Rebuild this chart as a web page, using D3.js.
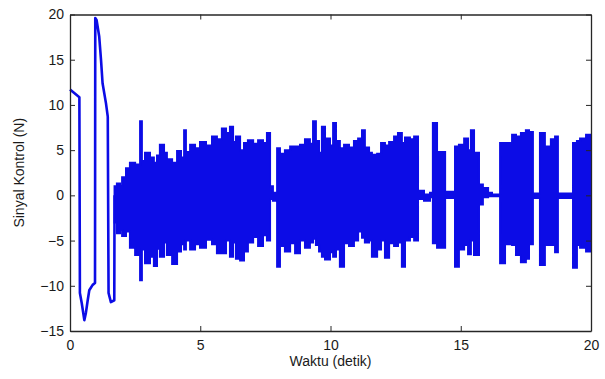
<!DOCTYPE html>
<html>
<head>
<meta charset="utf-8">
<script src="https://cdn.jsdelivr.net/npm/d3@7"></script>
<style>
  html, body { margin: 0; padding: 0; background: #fff; }
  svg text { font-family: "Liberation Sans", Arial, sans-serif; fill: #1a1a1a; }
</style>
</head>
<body>
<div id="chart"></div>
<script>
// transient part of the control signal (clean line)
const tTrans = [0, 0.36, 0.38, 0.45, 0.55, 0.61, 0.68, 0.74, 0.87, 0.96, 0.97, 1.02, 1.12, 1.19, 1.25, 1.38, 1.45, 1.48, 1.57, 1.70, 1.71];
const uTrans = [11.7, 10.85, -10.8, -11.9, -13.8, -13.0, -11.6, -10.5, -9.9, -9.7, 19.6, 19.4, 17.6, 15.0, 12.4, 10.2, 8.7, -10.8, -11.8, -11.6, 0];

// chattering part: step envelope (upper / lower) of the oscillation
const envT = [1.71, 1.80, 1.92, 2.00, 2.15, 2.30, 2.50, 2.69, 2.76, 2.88, 3.07, 3.22, 3.34, 3.45, 3.61, 3.72, 3.92, 4.11, 4.26, 4.38,
  4.45, 4.61, 4.80, 4.99, 5.22, 5.45, 5.64, 5.83, 5.99, 6.14, 6.26, 6.37, 6.53, 6.68, 6.83, 7.03, 7.22, 7.41, 7.56, 7.68,
  7.79, 7.95, 8.06, 8.25, 8.45, 8.64, 8.83, 9.02, 9.21, 9.33, 9.44, 9.56, 9.67, 9.79, 9.98, 10.10, 10.21, 10.36, 10.52, 10.71,
  10.90, 11.06, 11.21, 11.32, 11.48, 11.59, 11.79, 11.94, 12.09, 12.25, 12.44, 12.59, 12.74, 12.86, 13.05, 13.21, 13.36, 13.59, 13.82, 13.93,
  14.09, 14.40, 14.78, 14.93, 15.13, 15.28, 15.39, 15.51, 15.70, 15.85, 16.05, 16.20, 16.51, 16.70, 16.97, 17.12, 17.31, 17.50, 17.62, 17.77,
  18.04, 18.23, 18.46, 18.62, 18.73, 19.31, 19.46, 19.58, 19.81, 20];
const envHi = [1.0, 1.3, 1.0, 2.0, 3.0, 3.6, 3.4, 8.2, 3.8, 4.7, 4.2, 3.6, 4.4, 5.6, 4.7, 4.0, 3.6, 4.9, 4.2, 7.2,
  4.8, 5.6, 5.2, 5.9, 5.5, 6.5, 6.2, 7.4, 6.9, 7.6, 5.9, 6.5, 5.0, 5.8, 6.1, 5.7, 6.1, 5.8, 6.9, 1.0,
  0.3, 5.2, 4.6, 5.0, 5.4, 5.4, 5.6, 6.2, 5.7, 8.2, 6.0, 4.7, 7.6, 6.3, 5.5, 8.0, 6.0, 5.2, 5.6, 5.3,
  6.0, 6.3, 7.2, 5.3, 4.7, 4.5, 4.6, 5.8, 5.5, 5.9, 6.5, 6.9, 5.8, 6.4, 6.2, 6.5, 0.5, 0.1, 0.3, 8.0,
  4.8, 0.4, 5.4, 5.6, 6.3, 5.0, 7.2, 4.7, 1.2, 0.8, 0.3, 0.1, 5.8, 5.8, 6.7, 6.5, 6.9, 7.2, 7.0, 0.2,
  6.9, 5.4, 6.2, 6.5, 0.2, 5.8, 6.0, 6.3, 6.7, 6.7];
const envLo = [-3.0, -4.2, -3.8, -4.5, -4.0, -5.8, -6.6, -9.4, -6.0, -7.5, -6.8, -7.8, -5.9, -6.8, -5.2, -6.6, -7.6, -6.2, -5.4, -6.0,
  -5.0, -6.0, -5.4, -5.8, -4.9, -5.4, -6.4, -6.4, -5.0, -6.8, -5.2, -7.0, -7.2, -6.2, -5.2, -4.6, -5.6, -4.4, -5.0, -0.4,
  -0.6, -7.9, -5.6, -6.2, -5.3, -6.4, -5.0, -5.8, -5.2, -4.8, -5.5, -6.2, -6.8, -7.1, -6.3, -6.8, -6.0, -7.9, -5.3, -5.6,
  -5.0, -4.0, -4.7, -5.2, -5.0, -6.8, -6.0, -5.0, -6.9, -5.3, -5.6, -5.2, -7.9, -5.0, -4.6, -5.0, -0.4, -0.6, -0.2, -5.3,
  -5.8, -0.3, -7.9, -6.0, -5.5, -6.5, -5.0, -6.6, -1.0, -0.2, -0.1, -0.1, -7.5, -5.4, -5.5, -6.6, -7.4, -7.0, -5.4, -0.3,
  -7.7, -5.5, -5.5, -6.3, -0.3, -8.0, -5.5, -5.8, -6.2, -6.2];

const xTicks = [0, 5, 10, 15, 20];
const yTicks = [-15, -10, -5, 0, 5, 10, 15, 20];

const W = 605, H = 379;
const box = { left: 70, right: 591, top: 14.5, bottom: 331 };
const blue = '#0c0ce6';

const svg = d3.select('#chart').append('svg').attr('width', W).attr('height', H);

const x = d3.scaleLinear().domain([0, 20]).range([box.left, box.right]);
const y = d3.scaleLinear().domain([-15, 20]).range([box.bottom, box.top]);

const plot = svg.append('g');

// oscillating band
const env = envT.map((t, i) => ({ t: t, hi: envHi[i], lo: envLo[i] }));
plot.append('path')
  .datum(env)
  .attr('d', d3.area().x(d => x(d.t)).y0(d => y(d.lo)).y1(d => y(d.hi)).curve(d3.curveStepAfter))
  .attr('fill', blue)
  .attr('stroke', blue)
  .attr('stroke-width', 2);

// transient line
const trans = tTrans.map((t, i) => ({ t: t, u: uTrans[i] }));
plot.append('path')
  .datum(trans)
  .attr('d', d3.line().x(d => x(d.t)).y(d => y(d.u)))
  .attr('fill', 'none')
  .attr('stroke', blue)
  .attr('stroke-width', 2.6)
  .attr('stroke-linejoin', 'round');

// axes, MATLAB style box with inward ticks
const axColor = '#262626';
const gB = svg.append('g').attr('transform', `translate(0,${box.bottom})`)
  .call(d3.axisBottom(x).tickValues(xTicks).tickSize(-5).tickSizeOuter(0).tickPadding(9));
const gT = svg.append('g').attr('transform', `translate(0,${box.top})`)
  .call(d3.axisTop(x).tickValues(xTicks).tickSize(-5).tickSizeOuter(0).tickFormat(''));
const gL = svg.append('g').attr('transform', `translate(${box.left},0)`)
  .call(d3.axisLeft(y).tickValues(yTicks).tickSize(-5).tickSizeOuter(0).tickPadding(6));
const gR = svg.append('g').attr('transform', `translate(${box.right},0)`)
  .call(d3.axisRight(y).tickValues(yTicks).tickSize(-5).tickSizeOuter(0).tickFormat(''));

[gB, gT, gL, gR].forEach(g => {
  g.select('.domain').attr('stroke', axColor).attr('stroke-width', 1.3);
  g.selectAll('.tick line').attr('stroke', axColor);
  g.selectAll('.tick text').style('font-size', '14px').attr('fill', '#1a1a1a');
});

svg.append('text')
  .attr('x', (box.left + box.right) / 2)
  .attr('y', 366)
  .attr('text-anchor', 'middle')
  .style('font-size', '14px')
  .text('Waktu (detik)');

svg.append('text')
  .attr('transform', `translate(24,${(box.top + box.bottom) / 2}) rotate(-90)`)
  .attr('text-anchor', 'middle')
  .style('font-size', '14px')
  .text('Sinyal Kontrol (N)');
</script>
</body>
</html>
